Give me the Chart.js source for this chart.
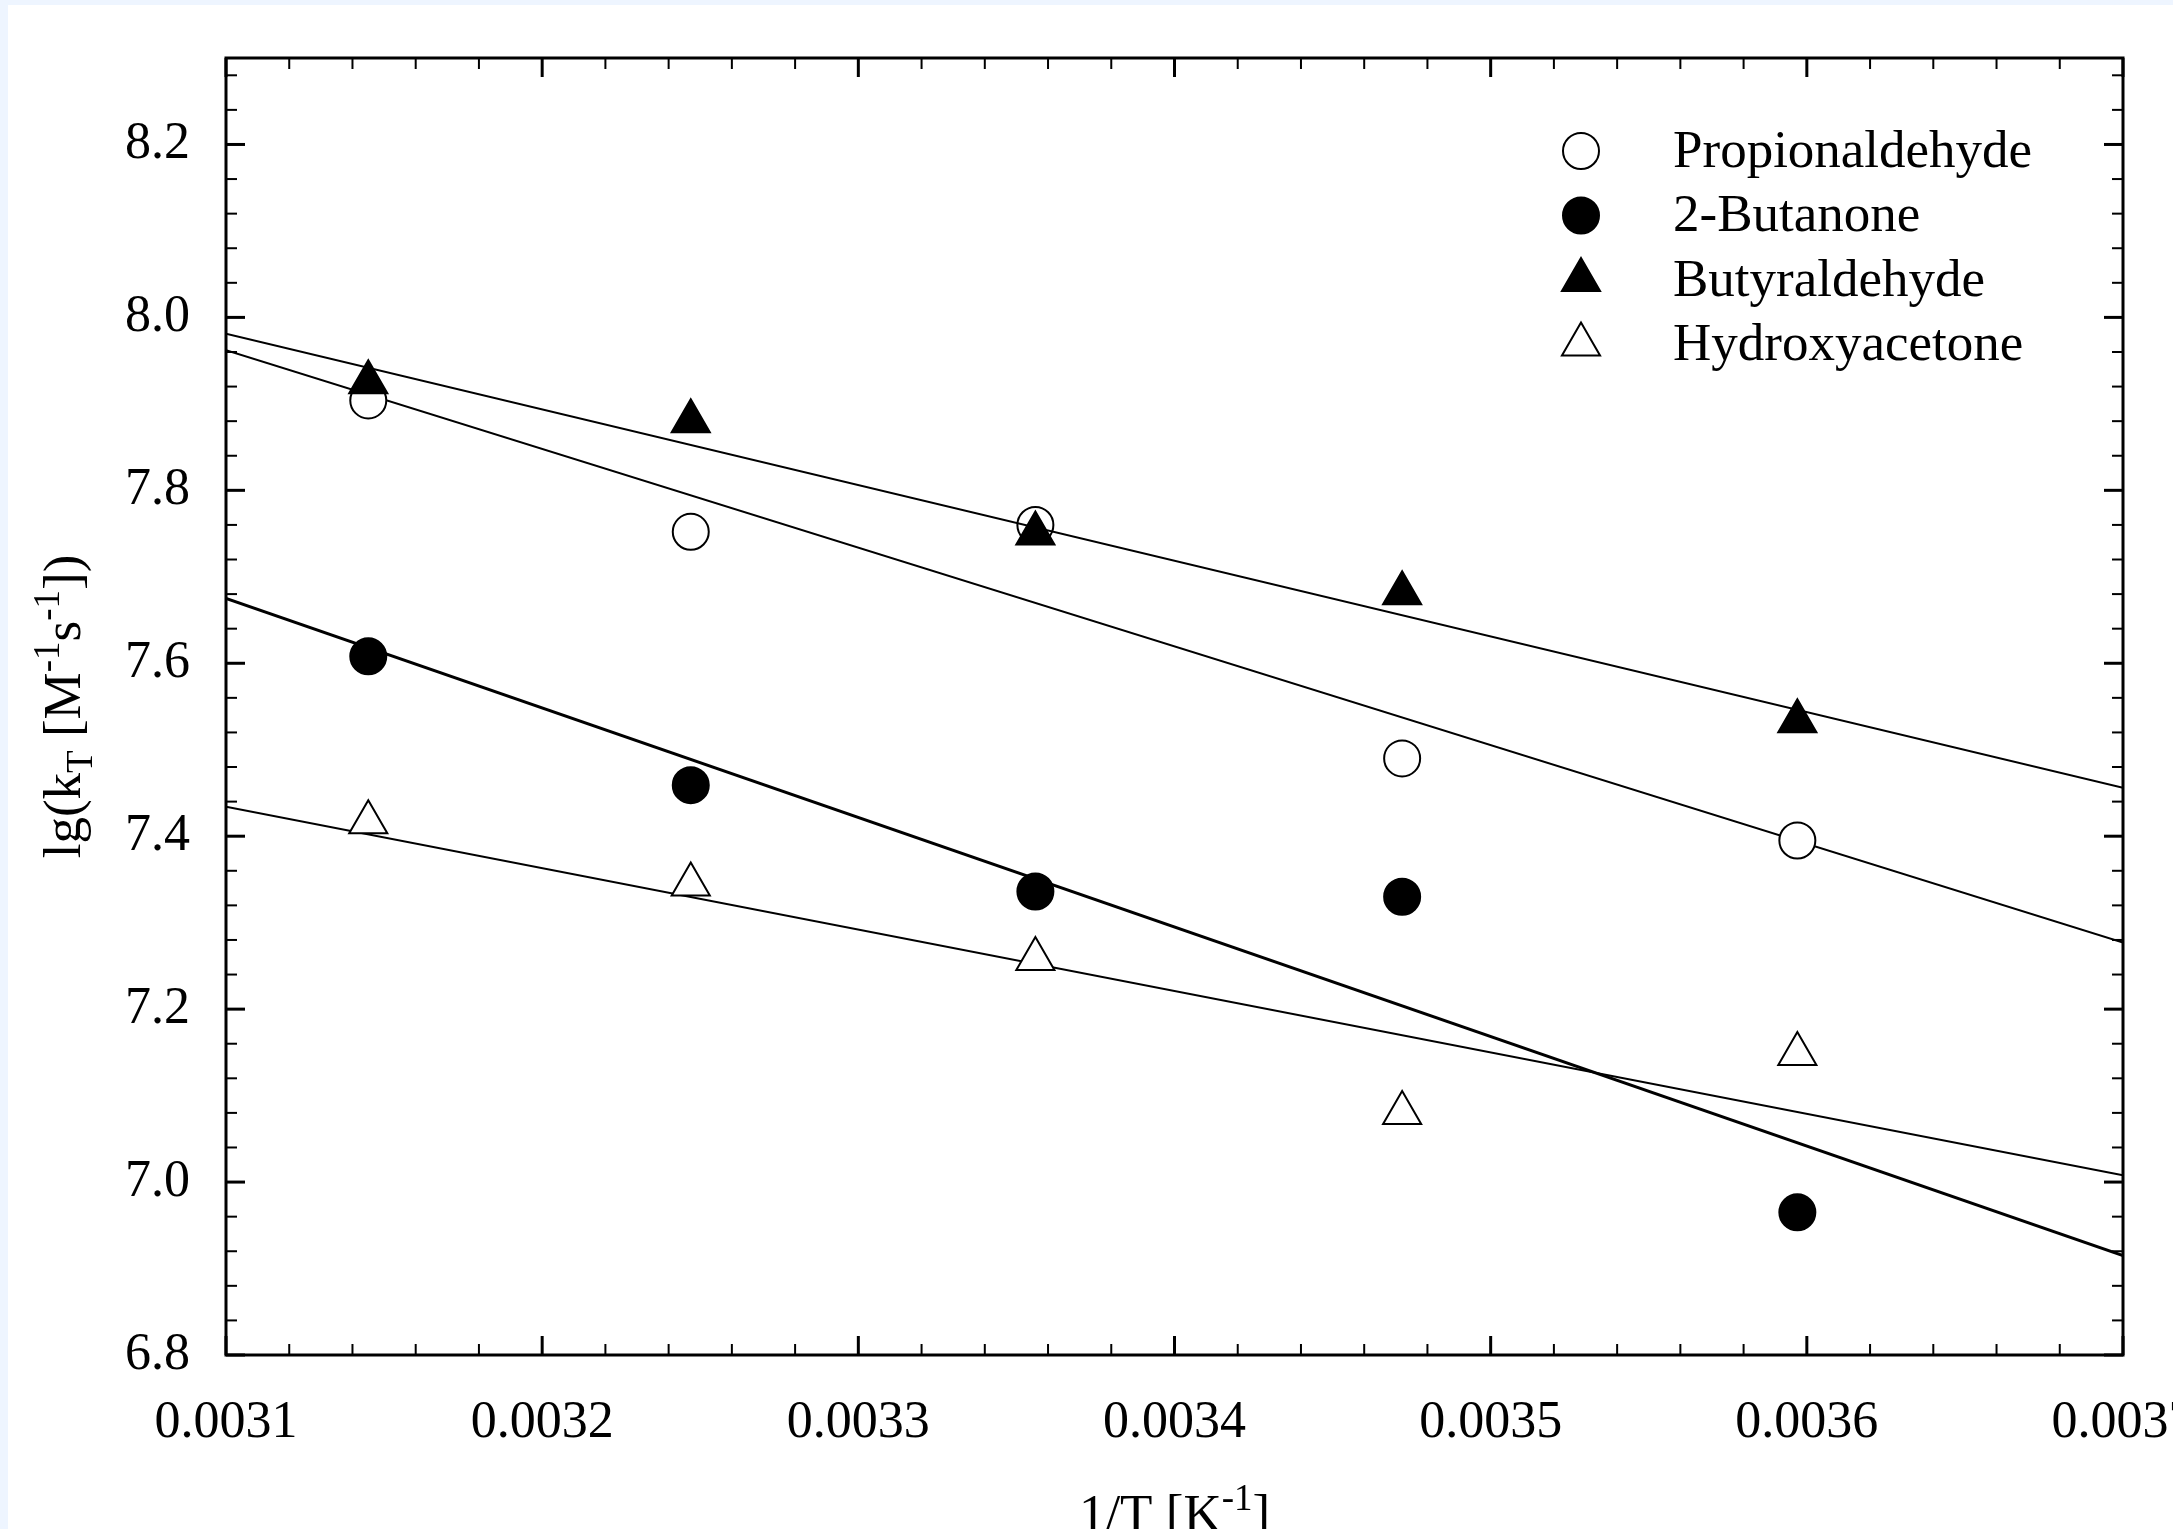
<!DOCTYPE html>
<html>
<head>
<meta charset="utf-8">
<script src="https://cdn.jsdelivr.net/npm/chart.js@4.4.0/dist/chart.umd.min.js"></script>
<style>
    html, body { margin: 0; padding: 0; background: #eef5ff; overflow: hidden; }
    #panel { position: absolute; left: 8px; top: 5px; width: 2165px; height: 1524px; background: #fff; }
    canvas { display: block; }
</style>
</head>
<body>
<div id="panel"><canvas id="arrhenius" width="2165" height="1524"></canvas></div>
<script>
// measured points, x = 1/T
const invT = [0.003145, 0.003247, 0.003356, 0.003472, 0.003597];
const propionaldehyde = [7.904, 7.752, 7.760, 7.490, 7.395];
const butanone = [7.608, 7.459, 7.336, 7.330, 6.965];
const butyraldehyde = [7.925, 7.880, 7.750, 7.681, 7.533];
const hydroxyacetone = [7.416, 7.344, 7.258, 7.080, 7.148];

// regression lines, read at both ends of the x axis
const fitX = [0.0031, 0.0037];
const fitPropionaldehyde = [7.962, 7.277];
const fitButanone = [7.675, 6.915];
const fitButyraldehyde = [7.981, 7.456];
const fitHydroxyacetone = [7.434, 7.008];

const xTicks = [0.0031, 0.0032, 0.0033, 0.0034, 0.0035, 0.0036, 0.0037];
const yTicks = [6.8, 7.0, 7.2, 7.4, 7.6, 7.8, 8.0, 8.2];
const yMax = 8.3;

const FONT = 'Liberation Serif, Times New Roman, serif';

const pts = (ys) => ys.map((y, i) => ({ x: invT[i], y: y }));
const line = (ys) => ys.map((y, i) => ({ x: fitX[i], y: y }));

function series(label, ys, fit, style, fill, lw, ord) {
    return [
        { label: label + ' fit', data: line(fit), showLine: true, pointRadius: 0,
          borderColor: '#000', borderWidth: lw, fill: false, order: ord + 1, isFit: true },
        { label: label, data: pts(ys), pointStyle: style,
          pointRadius: style === 'triangle' ? 22 : 18, pointHoverRadius: style === 'triangle' ? 22 : 18,
          pointBackgroundColor: fill, pointBorderColor: '#000', pointBorderWidth: 2,
          backgroundColor: fill, borderColor: '#000', showLine: false, order: ord }
    ];
}

const datasets = [].concat(
    series('Propionaldehyde', propionaldehyde, fitPropionaldehyde, 'circle', '#fff', 2, 7),
    series('2-Butanone', butanone, fitButanone, 'circle', '#000', 3, 5),
    series('Butyraldehyde', butyraldehyde, fitButyraldehyde, 'triangle', '#000', 2, 3),
    series('Hydroxyacetone', hydroxyacetone, fitHydroxyacetone, 'triangle', '#fff', 2, 1)
);

function minorsOf(majors, max) {
    const step = (majors[1] - majors[0]) / 5;
    const out = [];
    for (let i = 0; i < majors.length; i++) {
        for (let k = 1; k < 5; k++) {
            const v = majors[i] + k * step;
            if (v < max - step / 10) out.push(v);
        }
    }
    return out;
}

// frame with inward ticks on all four sides
const framePlugin = {
    id: 'frame',
    afterDatasetsDraw(chart) {
        const { ctx, chartArea: a, scales: { x, y } } = chart;
        ctx.save();
        ctx.strokeStyle = '#000';
        const tick = (x1, y1, x2, y2) => { ctx.beginPath(); ctx.moveTo(x1, y1); ctx.lineTo(x2, y2); ctx.stroke(); };
        [[xTicks, 19, 3], [minorsOf(xTicks, 0.0037), 11, 2]].forEach(([vals, len, w]) => {
            ctx.lineWidth = w;
            vals.forEach(v => {
                const px = x.getPixelForValue(v);
                tick(px, a.bottom, px, a.bottom - len);
                tick(px, a.top, px, a.top + len);
            });
        });
        [[yTicks, 19, 3], [minorsOf(yTicks, yMax), 11, 2]].forEach(([vals, len, w]) => {
            ctx.lineWidth = w;
            vals.forEach(v => {
                const py = y.getPixelForValue(v);
                tick(a.left, py, a.left + len, py);
                tick(a.right, py, a.right - len, py);
            });
        });
        ctx.lineWidth = 3;
        ctx.strokeRect(a.left, a.top, a.right - a.left, a.bottom - a.top);
        ctx.restore();
    }
};

// axis titles with sub/superscripts
function drawRich(ctx, parts, cx, baseY) {
    const big = '53px ' + FONT, small = '37px ' + FONT;
    let total = 0;
    parts.forEach(p => { ctx.font = p.s ? small : big; p.w = ctx.measureText(p.t).width; total += p.w; });
    let x0 = cx - total / 2;
    ctx.textAlign = 'left';
    ctx.textBaseline = 'alphabetic';
    parts.forEach(p => {
        ctx.font = p.s ? small : big;
        const dy = p.s === 'sub' ? 12 : p.s === 'sup' ? -21 : 0;
        ctx.fillText(p.t, x0, baseY + dy);
        x0 += p.w;
    });
}

const titlePlugin = {
    id: 'titles',
    afterDraw(chart) {
        const { ctx, chartArea: a } = chart;
        ctx.save();
        ctx.fillStyle = '#000';
        drawRich(ctx, [{ t: '1/T [K' }, { t: '-1', s: 'sup' }, { t: ']' }], (a.left + a.right) / 2, 1526);
        ctx.translate(72, (a.top + a.bottom) / 2);
        ctx.rotate(-Math.PI / 2);
        drawRich(ctx, [{ t: 'lg(k' }, { t: 'T', s: 'sub' }, { t: ' [M' }, { t: '-1', s: 'sup' },
                       { t: 's' }, { t: '-1', s: 'sup' }, { t: '])' }], 0, 0);
        ctx.restore();
    }
};

// legend inside the plot, top right
const legendPlugin = {
    id: 'innerLegend',
    afterDraw(chart) {
        const ctx = chart.ctx;
        const entries = chart.data.datasets.filter(d => !d.isFit);
        ctx.save();
        ctx.font = '53px ' + FONT;
        ctx.textBaseline = 'middle';
        ctx.textAlign = 'left';
        entries.forEach((d, i) => {
            const yy = 146 + i * 64.5;
            ctx.fillStyle = d.pointBackgroundColor;
            ctx.strokeStyle = '#000';
            ctx.lineWidth = 2;
            Chart.helpers.drawPoint(ctx, { pointStyle: d.pointStyle, radius: d.pointRadius, rotation: 0, borderWidth: 2 }, 1573, yy);
            ctx.fillStyle = '#000';
            ctx.fillText(d.label, 1665, yy + 2);
        });
        ctx.restore();
    }
};

new Chart(document.getElementById('arrhenius').getContext('2d'), {
    type: 'scatter',
    data: { datasets: datasets },
    options: {
        responsive: false,
        animation: false,
        layout: { padding: { top: 53, right: 50, left: 0, bottom: 0 } },
        plugins: { legend: { display: false }, tooltip: { enabled: false } },
        scales: {
            x: {
                type: 'linear', min: 0.0031, max: 0.0037,
                afterBuildTicks: s => { s.ticks = xTicks.map(v => ({ value: v })); },
                afterFit: s => { s.height = 174; s.paddingLeft = 0; s.paddingRight = 0; },
                grid: { display: false },
                border: { display: false },
                ticks: { color: '#000', font: { family: FONT, size: 52 }, padding: 29,
                         maxRotation: 0, autoSkip: false, callback: v => v.toFixed(4) }
            },
            y: {
                type: 'linear', min: 6.8, max: yMax,
                afterBuildTicks: s => { s.ticks = yTicks.map(v => ({ value: v })); },
                afterFit: s => { s.width = 218; s.paddingTop = 0; s.paddingBottom = 0; },
                grid: { display: false },
                border: { display: false },
                ticks: { color: '#000', font: { family: FONT, size: 52 }, padding: 28,
                         callback: v => v.toFixed(1) }
            }
        }
    },
    plugins: [framePlugin, titlePlugin, legendPlugin]
});
</script>
</body>
</html>
